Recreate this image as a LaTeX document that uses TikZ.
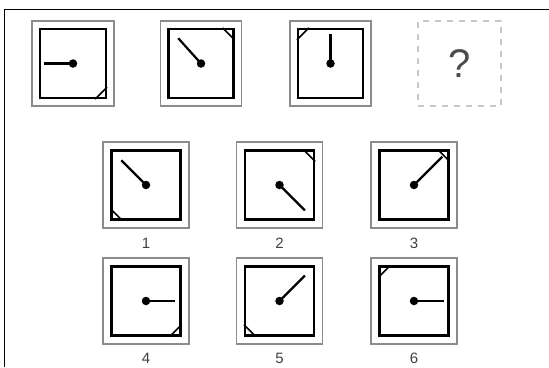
\documentclass[tikz,border=0pt]{standalone}
\usepackage{fontspec}
\setmainfont{Liberation Sans}
\tikzset{
  x=1pt,y=-1pt,
  outerbox/.style={draw=black!45, line width=1.8pt, inner sep=0pt},
  innerbox/.style={draw=black, line width=2.2pt, inner sep=0pt},
  dotnode/.style={circle, fill=black, inner sep=0pt, minimum size=8.5pt},
  hand/.style={line width=2.2pt},
  cornerline/.style={line width=1.6pt},
  lbl/.style={font=\fontsize{15}{15}\selectfont, text=black!75},
  qbox/.style={draw=black!22, dash pattern=on 6pt off 6pt, line width=1.8pt, inner sep=0pt},
  frameline/.style={line width=1.6pt}
}
\newcommand\cNE[1]{\draw[cornerline] ([xshift=-12pt]#1.north east) -- ([yshift=-12pt]#1.north east);}
\newcommand\cNW[1]{\draw[cornerline] ([xshift=12pt]#1.north west) -- ([yshift=-12pt]#1.north west);}
\newcommand\cSE[1]{\draw[cornerline] ([xshift=-12pt]#1.south east) -- ([yshift=12pt]#1.south east);}
\newcommand\cSW[1]{\draw[cornerline] ([xshift=12pt]#1.south west) -- ([yshift=12pt]#1.south west);}
% #1 name, #2 centre, #3 outer w, #4 outer h, #5 inner w, #6 inner h, #7 hand angle, #8 hand length, #9 corner macro
\newcommand\clockfig[9]{%
  \node[outerbox, minimum width=#3, minimum height=#4] (#1o) at #2 {};
  \node[innerbox, minimum width=#5, minimum height=#6] (#1i) at #2 {};
  \node[dotnode] (#1d) at #2 {};
  \draw[hand] (#1d.center) -- ++(#7:#8pt);
  #9{#1i}%
}
\begin{document}
\begin{tikzpicture}
\useasboundingbox (0,0) rectangle (549,367);
% frame
\coordinate (fbl) at (4.5,367);
\coordinate (ftl) at (4.5,9.5);
\coordinate (ftr) at (549,9.5);
\draw[frameline] (fbl) -- (ftl) -- (ftr);
% top row
\clockfig{ta}{(73,63.5)}{82}{85}{66}{69}{180}{29}{\cSE}
\clockfig{tb}{(201,63.5)}{81}{85}{65}{69}{132}{34}{\cNE}
\clockfig{tc}{(330.5,63.5)}{81}{85}{65}{69}{90}{30}{\cNW}
\node[qbox, minimum width=83, minimum height=85] (qb) at (459.5,63.5) {};
\node[font=\fontsize{40}{40}\selectfont, text=black!70] (q) at (459.5,63.5) {?};
% options
\clockfig{oa}{(146,185)}{86}{86}{69}{69}{135}{35}{\cSW}
\clockfig{ob}{(279.5,185)}{86}{86}{69}{69}{-45}{36}{\cNE}
\clockfig{oc}{(414,185)}{86}{86}{69}{69}{45}{40}{\cNE}
\clockfig{od}{(146,301)}{86}{86}{69}{69}{0}{29}{\cSE}
\clockfig{oe}{(279.5,301)}{86}{86}{69}{69}{45}{36}{\cSW}
\clockfig{of}{(414,301)}{86}{86}{69}{69}{0}{30}{\cNW}
% labels
\node[lbl] (l1) at (146,243) {1};
\node[lbl] (l2) at (279.5,243) {2};
\node[lbl] (l3) at (414,243) {3};
\node[lbl] (l4) at (146,358) {4};
\node[lbl] (l5) at (279.5,358) {5};
\node[lbl] (l6) at (414,358) {6};
\end{tikzpicture}
\end{document}
